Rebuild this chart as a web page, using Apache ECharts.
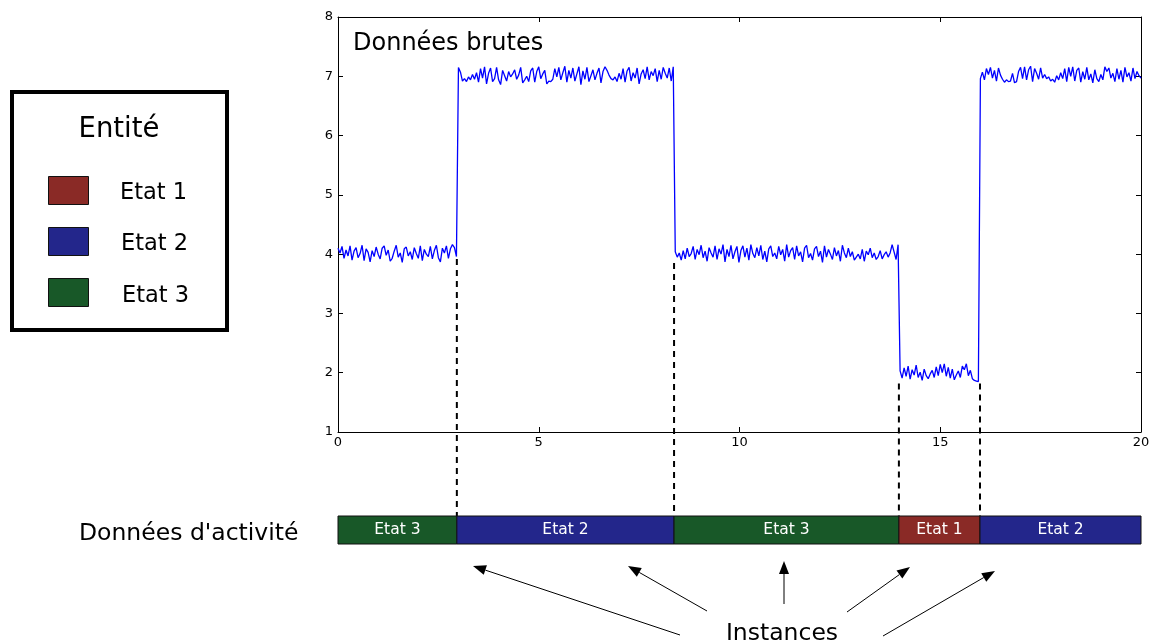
<!DOCTYPE html>
<html>
<head>
<meta charset="utf-8">
<script src="https://cdn.jsdelivr.net/npm/echarts@6/dist/echarts.min.js"></script>
<style>
html,body{margin:0;padding:0;background:#fff;}
#c{width:1153px;height:643px;}
</style>
</head>
<body>
<div id="c"></div>
<script>
// ---------- DATA ----------
const xTicks = [0, 5, 10, 15, 20];
const yTicks = [1, 2, 3, 4, 5, 6, 7, 8];
// raw signal segments: sample time ranges
const segStart = [0, 3.0, 8.4, 14.0, 16.0];
const segEnd   = [2.95, 8.35, 13.95, 15.95, 20.0];
const seg1 = [4.10,4.02,4.13,3.93,4.07,3.97,4.14,3.90,4.05,4.11,3.94,4.01,4.15,3.89,4.09,4.03,3.87,4.06,3.96,4.12,4.00,3.92,4.10,4.14,3.98,4.07,3.88,3.93,4.05,4.15,3.95,4.02,3.86,4.09,4.12,3.97,4.04,3.91,4.11,4.01,3.93,4.14,3.89,4.08,4.00,3.96,4.13,3.92,4.06,4.15,3.94,3.87,4.10,4.02,4.14,3.93,4.09,4.16,4.11,3.96];
const seg2 = [7.15,7.07,6.92,6.96,6.91,6.99,6.94,7.03,6.95,7.06,6.90,7.13,6.97,7.16,6.87,7.05,7.14,6.91,6.96,7.15,6.94,6.86,7.10,7.01,6.92,7.08,6.99,7.04,7.11,6.95,7.02,7.15,6.89,6.94,7.00,6.91,7.09,7.14,6.90,7.08,7.16,6.96,7.04,7.10,6.87,6.92,6.91,6.95,7.13,6.99,7.15,6.94,7.06,7.17,6.90,7.10,6.97,7.14,6.92,7.04,7.16,6.86,7.09,6.95,7.15,6.91,7.01,7.11,6.94,7.05,7.14,6.89,7.08,7.16,7.10,7.02,6.96,6.94,6.99,6.91,7.05,6.95,7.13,6.90,7.09,7.15,6.92,7.06,6.97,7.14,6.87,7.04,7.11,6.96,7.16,6.94,7.08,7.01,7.13,6.91,7.10,6.95,7.15,7.05,6.97,7.14,6.92,7.16];
const seg3 = [4.04,3.95,4.02,3.90,4.06,3.92,4.10,3.96,4.01,4.13,3.91,4.08,3.99,4.15,3.94,4.05,3.88,4.11,4.02,3.95,4.14,3.91,4.09,4.00,4.16,3.87,4.08,3.96,4.15,3.92,4.04,4.13,3.86,4.06,4.14,3.95,4.10,3.90,4.16,4.01,3.94,4.11,3.97,4.15,3.91,4.05,3.87,4.09,4.14,3.96,4.02,3.92,4.13,3.99,4.08,3.88,4.16,3.95,4.06,4.11,3.91,4.14,3.97,4.04,3.87,4.10,4.15,3.94,4.01,3.90,4.09,4.13,3.96,4.05,3.86,4.14,3.95,4.08,4.00,3.91,4.11,3.97,4.06,3.88,4.15,4.02,3.94,4.10,3.96,4.04,3.90,3.95,4.00,3.92,4.08,3.88,4.05,3.99,4.10,3.94,4.02,3.91,3.96,4.06,3.92,3.99,4.04,3.95,4.02,4.16,4.13,3.91,4.16];
const seg4 = [2.03,1.91,2.08,1.94,2.11,1.89,2.05,1.96,2.13,1.92,2.01,1.87,2.06,1.95,1.90,1.98,2.04,1.92,2.10,1.95,2.14,2.00,2.15,1.94,2.09,1.91,2.06,1.88,1.96,2.03,1.92,2.11,2.05,2.15,1.95,2.04,1.90,1.87,1.86,1.85];
const seg5 = [6.96,7.07,6.94,7.13,7.03,7.15,6.97,7.10,6.92,7.14,7.02,6.95,6.90,6.94,6.91,6.92,7.05,6.89,6.91,7.08,7.15,6.96,7.16,6.94,7.11,7.17,6.91,7.13,7.05,6.95,7.14,6.97,7.03,6.96,6.99,6.92,6.95,6.90,7.01,6.94,7.06,6.96,7.13,6.91,7.15,7.00,7.16,6.92,7.10,7.14,6.90,7.08,6.95,7.15,6.94,7.04,6.89,7.11,6.96,6.91,7.03,6.94,7.16,7.08,7.14,6.97,7.05,6.91,7.13,6.95,7.10,6.90,7.15,6.99,7.06,6.92,7.14,6.96,7.08,7.01,6.97];
const segValues = [seg1, seg2, seg3, seg4, seg5];
// activity states
const activityStart = [0, 2.96, 8.37, 13.97, 15.99];
const activityEnd   = [2.96, 8.37, 13.97, 15.99, 20];
const activityState = ['Etat 3', 'Etat 2', 'Etat 3', 'Etat 1', 'Etat 2'];
// dashed transition markers: x and top value
const transX   = [2.96, 8.37, 13.97, 15.99];
const transTop = [3.92, 3.85, 1.82, 1.82];
const legendStates = ['Etat 1', 'Etat 2', 'Etat 3'];

// ---------- STYLE ----------
const FONT = '"DejaVu Sans"';
const stateColors = {'Etat 1': '#8a2a26', 'Etat 2': '#23268b', 'Etat 3': '#185828'};
const G0 = {left: 338, top: 17, width: 803, height: 415};
const G1 = {left: 338, top: 516, width: 803, height: 28};
const GAP = G1.top - (G0.top + G0.height);

const lineData = [];
segValues.forEach((arr, s) => {
  const n = arr.length;
  arr.forEach((v, k) => {
    lineData.push([segStart[s] + k * (segEnd[s] - segStart[s]) / (n - 1), v]);
  });
});

const chart = echarts.init(document.getElementById('c'), null, {renderer: 'canvas'});

const axBase = {
  axisLine: {onZero: false, lineStyle: {color: '#000', width: 1}},
  axisTick: {inside: true, length: 5, lineStyle: {color: '#000', width: 1}},
  splitLine: {show: false}
};

const arrows = [
  [680, 635, 473, 566],
  [707, 611, 628, 566],
  [784, 604, 784, 561],
  [847, 612, 910, 567],
  [883, 636, 995, 571]
];
const arrowGraphics = [];
arrows.forEach(a => {
  const [x1, y1, x2, y2] = a;
  const dx = x2 - x1, dy = y2 - y1, L = Math.hypot(dx, dy);
  const ux = dx / L, uy = dy / L, hl = 13, hw = 5;
  const bx = x2 - ux * hl, by = y2 - uy * hl;
  arrowGraphics.push({type: 'line', shape: {x1, y1, x2: bx, y2: by}, style: {stroke: '#000', lineWidth: 1}});
  arrowGraphics.push({type: 'polygon', shape: {points: [[x2, y2], [bx - uy * hw, by + ux * hw], [bx + uy * hw, by - ux * hw]]}, style: {fill: '#000'}});
});

const legendGraphics = [
  {type: 'rect', shape: {x: 12, y: 92, width: 215, height: 238}, style: {fill: '#fff', stroke: '#000', lineWidth: 4}},
  {type: 'text', style: {x: 119, y: 116, text: 'Entité', font: '27.5px ' + FONT, fill: '#000', align: 'center', verticalAlign: 'top'}}
];
const swY = [176, 227, 278];
const lbX = [120, 121, 122];
const lbY = [182, 233, 284.5];
legendStates.forEach((st, i) => {
  legendGraphics.push({type: 'rect', shape: {x: 48.5, y: swY[i] + 0.5, width: 40, height: 28}, style: {fill: stateColors[st], stroke: '#111', lineWidth: 1}});
  legendGraphics.push({type: 'text', style: {x: lbX[i], y: lbY[i], text: st, font: '22.5px ' + FONT, fill: '#000', align: 'left', verticalAlign: 'top'}});
});

const option = {
  animation: false,
  backgroundColor: '#fff',
  grid: [
    Object.assign({containLabel: false}, G0),
    Object.assign({containLabel: false}, G1)
  ],
  xAxis: [
    Object.assign({}, axBase, {gridIndex: 0, type: 'value', min: 0, max: 20, interval: 5, position: 'bottom',
      axisLabel: {color: '#000', fontSize: 13, fontFamily: FONT, margin: 4,
        formatter: v => xTicks.includes(v) ? String(v) : ''}}),
    Object.assign({}, axBase, {gridIndex: 0, type: 'value', min: 0, max: 20, interval: 5, position: 'top', axisLabel: {show: false}}),
    {gridIndex: 1, type: 'value', min: 0, max: 20, show: false}
  ],
  yAxis: [
    Object.assign({}, axBase, {gridIndex: 0, type: 'value', min: 1, max: 8, interval: 1, position: 'left',
      axisLabel: {color: '#000', fontSize: 13, fontFamily: FONT, margin: 5,
        formatter: v => yTicks.includes(v) ? String(v) : ''}}),
    Object.assign({}, axBase, {gridIndex: 0, type: 'value', min: 1, max: 8, interval: 1, position: 'right', axisLabel: {show: false}}),
    {gridIndex: 1, type: 'category', data: ['activité'], show: false}
  ],
  series: [
    {
      type: 'custom', xAxisIndex: 0, yAxisIndex: 0, z: 1, clip: false,
      data: transX.map((x, i) => [x, transTop[i]]),
      renderItem: (params, api) => {
        const t = api.coord([api.value(0), api.value(1)]);
        const b = api.coord([api.value(0), 1]);
        return {type: 'line', shape: {x1: t[0], y1: t[1], x2: b[0], y2: b[1] + GAP},
          style: {stroke: '#000', lineWidth: 2, lineDash: [6, 5]}};
      }
    },
    {
      type: 'line', xAxisIndex: 0, yAxisIndex: 0, z: 3,
      data: lineData, showSymbol: false, symbol: 'none',
      lineStyle: {color: '#0000ff', width: 1.3}
    },
    {
      type: 'custom', xAxisIndex: 2, yAxisIndex: 2, z: 4,
      encode: {x: [0, 1], y: 2},
      data: activityStart.map((s, i) => [s, activityEnd[i], 0]),
      renderItem: (params, api) => {
        const a = api.coord([api.value(0), 0]);
        const b = api.coord([api.value(1), 0]);
        const h = api.size([0, 1])[1];
        const st = activityState[params.dataIndex];
        return {type: 'group', children: [
          {type: 'rect', shape: {x: a[0], y: a[1] - h / 2, width: b[0] - a[0], height: h},
            style: {fill: stateColors[st], stroke: '#111', lineWidth: 1}},
          {type: 'text', style: {x: (a[0] + b[0]) / 2, y: a[1], text: st, fill: '#fff',
            font: '15.5px ' + FONT, align: 'center', verticalAlign: 'middle'}}
        ]};
      }
    }
  ],
  graphic: [
    {type: 'text', style: {x: 353, y: 32, text: 'Données brutes', font: '24px ' + FONT, fill: '#000', verticalAlign: 'top'}},
    {type: 'text', style: {x: 79, y: 522, text: "Données d'activité", font: '23.5px ' + FONT, fill: '#000', verticalAlign: 'top'}},
    {type: 'text', style: {x: 782, y: 622, text: 'Instances', font: '23.5px ' + FONT, fill: '#000', align: 'center', verticalAlign: 'top'}}
  ].concat(legendGraphics, arrowGraphics)
};
chart.setOption(option);
</script>
</body>
</html>
